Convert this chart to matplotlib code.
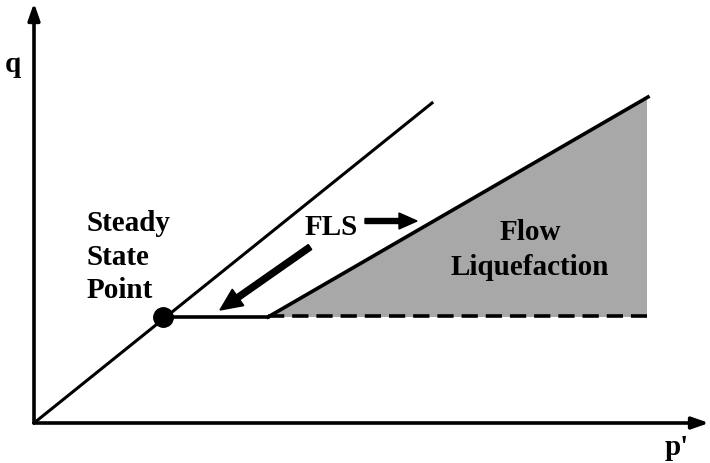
import matplotlib.pyplot as plt
from matplotlib.patches import Polygon, FancyArrow

# Schematic drawn in image pixel coordinates (y grows downward)
origin = (34, 424)
q_axis_end = (34, 4)
p_axis_end = (709, 424)

ssl_x = [34, 432]
ssl_y = [424, 104]

ss_point = (163, 318)

plateau_x = [163, 268]
plateau_y = [318, 318]

fls_x = [268, 648]
fls_y = [318, 98]

dash_x = [268, 647]
dash_y = [317, 317]

region_x = [268, 647, 647]
region_y = [318, 99, 318]

font = dict(family="Liberation Serif", fontweight="bold", color="black",
            fontsize=21)

fig = plt.figure(figsize=(7.1, 4.64), dpi=100)
ax = fig.add_axes([0, 0, 1, 1])
ax.set_xlim(0, 710)
ax.set_ylim(464, 0)
ax.axis("off")

# shaded flow liquefaction zone
ax.add_patch(Polygon(list(zip(region_x, region_y)), closed=True,
                     facecolor="#a8a8a8", edgecolor="none", zorder=1))

# axes with arrowheads
head = dict(arrowstyle="-|>,head_length=1.0,head_width=0.35",
            lw=2.6, color="black", shrinkA=0, shrinkB=0)
ax.annotate("", xy=q_axis_end, xytext=origin, arrowprops=head)
ax.annotate("", xy=p_axis_end, xytext=origin, arrowprops=head)

ax.plot(ssl_x, ssl_y, color="black", lw=2.2, zorder=2)
ax.plot(plateau_x, plateau_y, color="black", lw=2.6, zorder=2)
ax.plot(fls_x, fls_y, color="black", lw=2.6, zorder=2)
ax.plot(dash_x, dash_y, color="black", lw=2.6, ls=(0, (4.5, 2.2)), zorder=2)
ax.plot(*ss_point, "o", color="black", ms=14, zorder=3)

# arrows
ax.add_patch(FancyArrow(310, 248, -90, 63, width=6, head_width=20,
                        head_length=22, length_includes_head=True,
                        color="black", zorder=3))
ax.add_patch(FancyArrow(365, 222, 52, 0, width=5, head_width=16,
                        head_length=18, length_includes_head=True,
                        color="black", zorder=3))

# labels
ax.text(5, 72, "q", ha="left", va="baseline", **font)
ax.text(665, 455, "p'", ha="left", va="baseline", **font)
ax.text(87, 298, "Steady\nState\nPoint", ha="left", va="baseline",
        linespacing=1.3, **font)
ax.text(305, 235, "FLS", ha="left", va="baseline", **font)
ax.text(530, 275, "Flow\nLiquefaction", ha="center", va="baseline",
        multialignment="center", linespacing=1.38, **font)

fig.savefig("out.png", dpi=100)
